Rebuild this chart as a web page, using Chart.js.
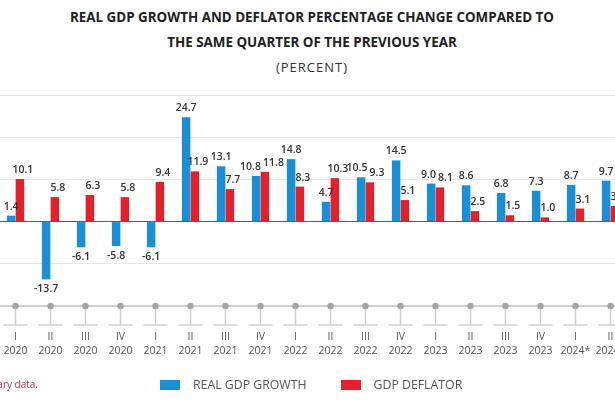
<!DOCTYPE html>
<html>
<head>
<meta charset="utf-8">
<script src="https://cdn.jsdelivr.net/npm/chart.js@4.4.1/dist/chart.umd.min.js"></script>
<style>
    html, body { margin: 0; padding: 0; background: #fff; }
    body { width: 615px; height: 410px; overflow: hidden; position: relative; font-family: "Open Sans", sans-serif; }
    #title {
        position: absolute; top: 5px; left: 2px; width: 620px; text-align: center;
        font-family: "Open Sans", sans-serif; font-weight: 700; font-size: 13.4px;
        line-height: 25px; color: #222;
    }
    #title .sub { font-weight: 400; letter-spacing: 1px; color: #333; font-size: 13px; }
    #wrap { position: absolute; top: 0; left: -2.5px; width: 630px; height: 410px; }
    #note {
        position: absolute; right: 577px; top: 377px; white-space: nowrap;
        font-size: 10px; color: #b5304a;
    }
    #legend { position: absolute; top: 376px; left: 160px; white-space: nowrap; font-size: 12.3px; color: #555; }
    #legend span.item { display: inline-block; margin-right: 34px; }
    #legend i { display: inline-block; width: 20px; height: 10px; margin-right: 13px; vertical-align: -1px; }
</style>
</head>
<body>
<div id="title">
    REAL GDP GROWTH AND DEFLATOR PERCENTAGE CHANGE COMPARED TO<br>
    THE SAME QUARTER OF THE PREVIOUS YEAR<br>
    <span class="sub">(PERCENT)</span>
</div>
<div id="wrap"><canvas id="gdpChart"></canvas></div>
<div id="note">* Preliminary data.</div>
<div id="legend"></div>

<script>
const quarters = ['I', 'II', 'III', 'IV', 'I', 'II', 'III', 'IV', 'I', 'II', 'III', 'IV', 'I', 'II', 'III', 'IV', 'I', 'II'];
const years = ['2020', '2020', '2020', '2020', '2021', '2021', '2021', '2021', '2022', '2022', '2022', '2022',
    '2023', '2023', '2023', '2023', '2024*', '2024*'];
const realGdpGrowth = [1.4, -13.7, -6.1, -5.8, -6.1, 24.7, 13.1, 10.8, 14.8, 4.7, 10.5, 14.5, 9.0, 8.6, 6.8, 7.3, 8.7, 9.7];
const gdpDeflator = [10.1, 5.8, 6.3, 5.8, 9.4, 11.9, 7.7, 11.8, 8.3, 10.3, 9.3, 5.1, 8.1, 2.5, 1.5, 1.0, 3.1, 3.7];

const blue = '#1b8fd6';
const red = '#e5202b';

const labels = quarters.map((q, i) => [q, years[i]]);

// draws the gray axis with dots and little T shapes under each quarter
const quarterAxis = {
    id: 'quarterAxis',
    afterDatasetsDraw(chart) {
        const ctx = chart.ctx;
        const x = chart.scales.x;
        const y = chart.chartArea.bottom;
        ctx.save();
        ctx.strokeStyle = '#d0d0d0';
        ctx.lineWidth = 2;
        ctx.beginPath();
        ctx.moveTo(0, y);
        ctx.lineTo(chart.width, y);
        ctx.stroke();
        ctx.lineWidth = 1.5;
        labels.forEach((l, i) => {
            const px = x.getPixelForValue(i);
            ctx.beginPath();
            ctx.moveTo(px, y);
            ctx.lineTo(px, y + 19);
            ctx.moveTo(px - 12, y + 19);
            ctx.lineTo(px + 12, y + 19);
            ctx.stroke();
        });
        ctx.fillStyle = '#a5a5a5';
        labels.forEach((l, i) => {
            const px = x.getPixelForValue(i);
            ctx.beginPath();
            ctx.arc(px, y, 3.2, 0, Math.PI * 2);
            ctx.fill();
        });
        ctx.restore();
    }
};

// value labels, pushed apart a bit when the two labels of a quarter collide
const valueLabels = {
    id: 'valueLabels',
    afterDatasetsDraw(chart) {
        const ctx = chart.ctx;
        const m0 = chart.getDatasetMeta(0).data;
        const m1 = chart.getDatasetMeta(1).data;
        ctx.save();
        ctx.font = '600 10.5px "Open Sans", sans-serif';
        ctx.fillStyle = '#333';
        ctx.textAlign = 'center';
        ctx.textBaseline = 'middle';
        const pos = (bar, v) => v >= 0 ? bar.y - 9 : bar.y + 10;
        realGdpGrowth.forEach((v, i) => {
            const a = m0[i], b = m1[i];
            const ta = v.toFixed(1), tb = gdpDeflator[i].toFixed(1);
            const wa = ctx.measureText(ta).width, wb = ctx.measureText(tb).width;
            let xa = a.x, xb = b.x + 3;
            const ya = pos(a, v), yb = pos(b, gdpDeflator[i]);
            if (Math.abs(ya - yb) < 12) {
                const overlap = (xa + wa / 2 + 2) - (xb - wb / 2);
                if (overlap > 0) {
                    xa -= overlap / 2;
                    xb += overlap / 2;
                }
            }
            ctx.fillText(ta, xa, ya);
            ctx.fillText(tb, xb, yb);
        });
        ctx.restore();
    }
};

const ctx = document.getElementById('gdpChart').getContext('2d');
const myChart = new Chart(ctx, {
    type: 'bar',
    data: {
        labels: labels,
        datasets: [{
            label: 'REAL GDP GROWTH',
            data: realGdpGrowth,
            backgroundColor: blue
        }, {
            label: 'GDP DEFLATOR',
            data: gdpDeflator,
            backgroundColor: red
        }]
    },
    options: {
        responsive: true,
        maintainAspectRatio: false,
        animation: false,
        layout: { padding: { top: 95, bottom: 54, left: 0, right: 0 } },
        datasets: {
            bar: { categoryPercentage: 0.5, barPercentage: 0.97 }
        },
        scales: {
            x: {
                grid: { display: true, drawOnChartArea: false, drawTicks: true, tickLength: 24, color: 'rgba(0,0,0,0)' },
                border: { display: false },
                ticks: {
                    autoSkip: false,
                    maxRotation: 0,
                    padding: 0,
                    color: '#555',
                    font: { family: '"Open Sans", sans-serif', size: 10.5, lineHeight: 1.33 }
                },
                afterFit(axis) { axis.height = 50; }
            },
            y: {
                min: -20,
                max: 30,
                ticks: { display: false, stepSize: 10 },
                border: { display: false },
                grid: {
                    drawTicks: false,
                    color: c => c.tick.value === 0 ? red : (c.tick.value === -20 ? 'rgba(0,0,0,0)' : '#e8e8e8'),
                    lineWidth: 1
                },
                afterFit(axis) { axis.width = 0; }
            }
        },
        plugins: {
            tooltip: { enabled: false },
            legend: { display: false }
        }
    },
    plugins: [quarterAxis, valueLabels]
});

// legend built from the chart's datasets
const legendDiv = document.getElementById('legend');
myChart.data.datasets.forEach(ds => {
    const item = document.createElement('span');
    item.className = 'item';
    item.innerHTML = `<i style="background:${ds.backgroundColor}"></i>${ds.label}`;
    legendDiv.appendChild(item);
});
</script>
</body>
</html>
